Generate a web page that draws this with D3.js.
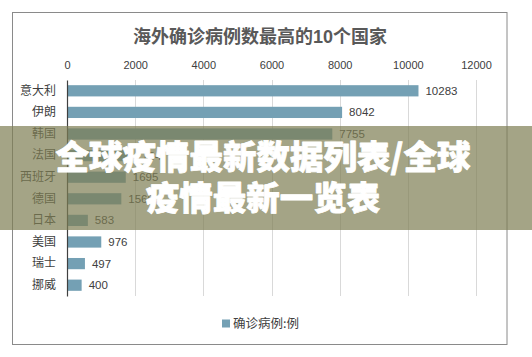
<!DOCTYPE html>
<html><head><meta charset="utf-8">
<script src="https://cdn.jsdelivr.net/npm/d3@7/dist/d3.min.js"></script>
<style>
html,body{margin:0;padding:0;background:#fff;}
svg{display:block;}
</style></head>
<body>
<svg id="c" width="532" height="357"></svg>
<script>
const categories = ["意大利","伊朗","韩国","法国","西班牙","德国","日本","美国","瑞士","挪威"];
const values = [10283, 8042, 7755, 1784, 1695, 1565, 583, 976, 497, 400];
const tickValues = [0, 2000, 4000, 6000, 8000, 10000, 12000];
const title = "海外确诊病例数最高的10个国家";
const legendLabel = "确诊病例:例";
const bannerLines = ["全球疫情最新数据列表/全球", "疫情最新一览表"];

const svg = d3.select("#c");
const cjk = "'Liberation Sans','Noto Sans CJK SC',sans-serif";

// chart frame
svg.append("rect").attr("x",12.5).attr("y",12.5).attr("width",494.5).attr("height",332)
  .attr("fill","#fff").attr("stroke","#8a8a8a").attr("stroke-width",1);

svg.append("text").attr("x",260).attr("y",43).attr("text-anchor","middle")
  .attr("font-family",cjk).attr("font-weight","bold").attr("font-size",18)
  .attr("fill","#595959").text(title);

const x = d3.scaleLinear().domain([0,12000]).range([67,476]);
const y = d3.scaleBand().domain(categories).range([80,296]).paddingInner(0.48).paddingOuter(0.24);

// gridlines
svg.append("g").selectAll("line").data(tickValues.slice(1)).join("line")
  .attr("x1",d=>Math.round(x(d))+0.5).attr("x2",d=>Math.round(x(d))+0.5)
  .attr("y1",80).attr("y2",296).attr("stroke","#d9d9d9").attr("stroke-width",1);

// top axis labels
const xa = svg.append("g").attr("transform","translate(0,69)")
  .call(d3.axisTop(x).tickValues(tickValues).tickSize(0).tickPadding(0).tickFormat(d3.format("d")));
xa.select(".domain").remove();
xa.selectAll("text").attr("font-family","'Liberation Sans',Arial,sans-serif").attr("font-size",11)
  .attr("fill","#404040").attr("dy","0");

// bars
svg.append("g").selectAll("rect").data(values).join("rect")
  .attr("x",x(0)).attr("y",(d,i)=>y(categories[i]))
  .attr("width",d=>x(d)-x(0)+1).attr("height",y.bandwidth())
  .attr("fill","#74a0b4");

// value labels
svg.append("g").selectAll("text").data(values).join("text")
  .attr("x",d=>x(d)+8).attr("y",(d,i)=>y(categories[i])+y.bandwidth()/2)
  .attr("dy","0.35em").attr("font-family","'Liberation Sans',Arial,sans-serif")
  .attr("font-size",11.5).attr("fill","#404040").text(d=>d);

// category axis
const ya = svg.append("g").attr("transform",`translate(${x(0)},0)`)
  .call(d3.axisLeft(y).tickSize(0).tickPadding(11));
ya.select(".domain").attr("stroke","#404040").attr("stroke-width",1.2);
ya.selectAll("text").attr("font-family","'Noto Sans CJK SC',sans-serif").attr("font-size",12)
  .attr("fill","#404040");

// legend
svg.append("rect").attr("x",222).attr("y",319.5).attr("width",8).attr("height",8).attr("fill","#74a0b4");
svg.append("text").attr("x",233).attr("y",328).attr("font-family","'Noto Sans CJK SC',sans-serif")
  .attr("font-size",12.5).attr("fill","#404040").text(legendLabel);

// banner overlay
svg.append("rect").attr("x",0).attr("y",126).attr("width",532).attr("height",104)
  .attr("fill","rgb(126,126,83)").attr("fill-opacity",0.7);
const bt = svg.append("g");
bannerLines.forEach((t,i)=>{
  bt.append("text").attr("x",263).attr("y",169+i*41).attr("text-anchor","middle")
    .attr("font-family","'Noto Sans CJK SC',sans-serif").attr("font-weight",900)
    .attr("font-size",33.5).attr("fill","#fff")
    .attr("stroke","#fff").attr("stroke-width",0.8).attr("stroke-linejoin","round")
    .text(t);
});
</script>
</body></html>
